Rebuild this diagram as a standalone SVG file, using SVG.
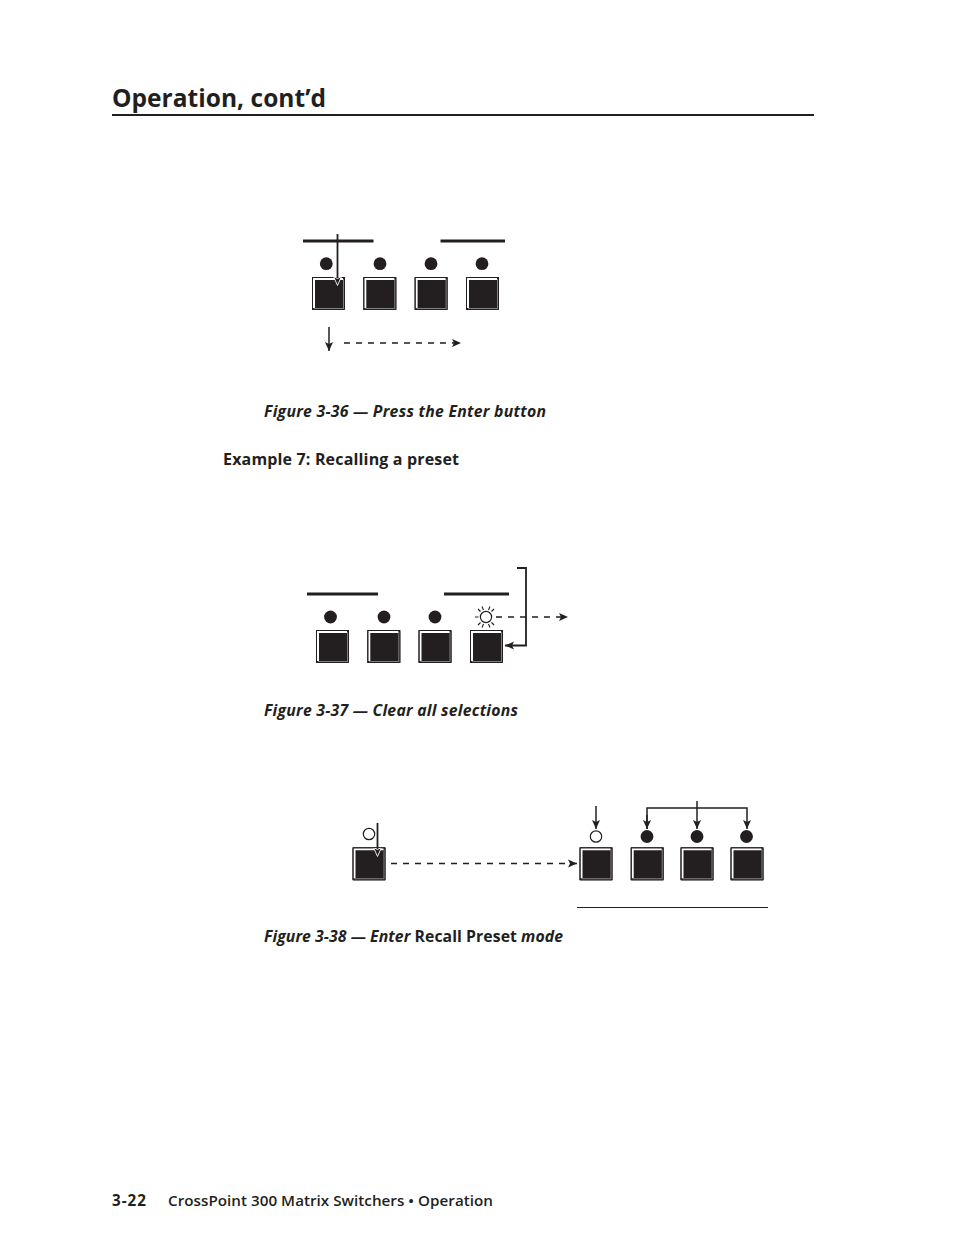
<svg xmlns="http://www.w3.org/2000/svg" width="954" height="1235" viewBox="0 0 954 1235">
<style>
text{font-family:"Open Sans","Noto Sans","Liberation Sans",sans-serif;fill:#231f20;font-weight:700}
.cap{font-size:15.8px;font-style:italic;font-weight:700}
.body{font-size:16px;font-weight:700}
.foot{font-size:15.200px;font-weight:600}
.bar{stroke:#231f20;stroke-width:2.8;fill:none}
.ln{stroke:#231f20;stroke-width:1.5;fill:none}
.dash{stroke:#231f20;stroke-width:1.5;fill:none;stroke-dasharray:6 6}
.led{fill:#231f20}
.ring{fill:#fff;stroke:#231f20;stroke-width:1.2}
</style>
<defs>
<g id="btn">
<rect x="0" y="0" width="33" height="33" fill="#231f20"/>
<path d="M32 2V32H2" fill="none" stroke="#808082" stroke-width="2"/>
<path d="M2 31V2H31" fill="none" stroke="#fff" stroke-width="2"/>
<path d="M.5 .5H32.500V32.500H.5Z" fill="none" stroke="#231f20" stroke-width="1"/>
</g>
<marker id="ah" markerUnits="userSpaceOnUse" markerWidth="10" markerHeight="9" refX="9" refY="4.500" orient="auto"><path d="M0 .5L9 4.500L0 8.500L2 4.500Z" fill="#231f20"/></marker>
<marker id="aw" markerUnits="userSpaceOnUse" markerWidth="11" markerHeight="10" refX="9.500" refY="5" orient="auto"><path d="M0 1L9 5L0 9L2 5Z" fill="#231f20" stroke="#fff" stroke-width="0.9"/></marker>
</defs>
<rect width="954" height="1235" fill="#fff"/>
<g id="header">
<text x="112" y="106.500" style="font-size:24.500px" textLength="214">Operation, cont’d</text>
<line x1="112" y1="115" x2="814" y2="115" stroke="#231f20" stroke-width="2"/>
</g>
<g id="fig36">
<g id="fig36-bars"><line class="bar" x1="303" y1="241" x2="373.500" y2="241"/><line class="bar" x1="440.500" y1="241" x2="505" y2="241"/></g>
<g id="fig36-b1"><circle class="led" cx="326.300" cy="263.700" r="6.400"/><use href="#btn" x="312" y="277"/></g>
<g id="fig36-b2"><circle class="led" cx="380" cy="263.700" r="6.400"/><use href="#btn" x="363.300" y="277"/></g>
<g id="fig36-b3"><circle class="led" cx="431" cy="263.700" r="6.400"/><use href="#btn" x="414.600" y="277"/></g>
<g id="fig36-b4"><circle class="led" cx="482" cy="263.700" r="6.400"/><use href="#btn" x="466" y="277"/></g>
</g>
<g id="fig37">
<g id="fig37-bars"><line class="bar" x1="307" y1="594" x2="378" y2="594"/><line class="bar" x1="444" y1="594" x2="509" y2="594"/></g>
<g id="fig37-b1"><circle class="led" cx="330.500" cy="617" r="6.400"/><use href="#btn" x="316" y="630"/></g>
<g id="fig37-b2"><circle class="led" cx="384" cy="617" r="6.400"/><use href="#btn" x="367.300" y="630"/></g>
<g id="fig37-b3"><circle class="led" cx="435" cy="617" r="6.400"/><use href="#btn" x="418.500" y="630"/></g>
<g id="fig37-b4"><circle class="ring" cx="486" cy="617" r="5.600"/>
<path class="ln" style="stroke-width:1.100" d="M475 617H478.500M478 609L480.500 611.500M494 609L491.500 611.500M478 625L480.500 622.500M494 625L491.500 622.500M482 606.500L483.500 610M490 606.500L488.500 610M482 627.500L483.500 624M490 627.500L488.500 624"/>
<use href="#btn" x="470" y="630"/></g>
</g>
<g id="fig38">
<g id="fig38-enter"><circle class="ring" cx="369" cy="834" r="5.700"/><use href="#btn" x="352.500" y="847.300"/></g>
<g id="fig38-b1"><circle class="ring" cx="596" cy="836.500" r="5.700"/><use href="#btn" x="579.500" y="847.300"/></g>
<g id="fig38-b2"><circle class="led" cx="647" cy="836.500" r="6.400"/><use href="#btn" x="630.700" y="847.300"/></g>
<g id="fig38-b3"><circle class="led" cx="697" cy="836.500" r="6.400"/><use href="#btn" x="680.500" y="847.300"/></g>
<g id="fig38-b4"><circle class="led" cx="746.500" cy="836.500" r="6.400"/><use href="#btn" x="730.500" y="847.300"/></g>
<line id="fig38-rule" class="ln" style="stroke-width:1" x1="577" y1="907.500" x2="768" y2="907.500"/>
</g>
<g id="connectors">
<line class="ln" style="stroke-width:1.800" x1="337.500" y1="234" x2="337.500" y2="286" marker-end="url(#aw)"/>
<line class="ln" x1="329" y1="327" x2="329" y2="351" marker-end="url(#ah)"/>
<line class="dash" x1="344" y1="343" x2="461" y2="343" marker-end="url(#ah)"/>
<path class="ln" style="stroke-width:1.800" d="M517 568H526V645.500H505" marker-end="url(#ah)"/>
<line class="dash" x1="496" y1="617" x2="568" y2="617" marker-end="url(#ah)"/>
<line class="ln" style="stroke-width:1.800" x1="377.500" y1="823" x2="377.500" y2="857" marker-end="url(#aw)"/>
<line class="dash" x1="391" y1="863.500" x2="577" y2="863.500" marker-end="url(#ah)"/>
<line class="ln" x1="596" y1="806" x2="596" y2="829" marker-end="url(#ah)"/>
<path class="ln" d="M647 829V808H747V829" marker-end="url(#ah)"/>
<line class="ln" x1="647" y1="815" x2="647" y2="829" marker-end="url(#ah)"/>
<line class="ln" x1="697" y1="801" x2="697" y2="829" marker-end="url(#ah)"/>
</g>
<g id="text">
<text class="cap" x="264" y="417.300" textLength="282">Figure 3-36 — Press the Enter button</text>
<text class="body" x="223" y="465.300" textLength="236">Example 7: Recalling a preset</text>
<text class="cap" x="264" y="716.300" textLength="254">Figure 3-37 — Clear all selections</text>
<text class="cap" x="264" y="942.300" textLength="299">Figure 3-38 — Enter <tspan style="font-style:normal">Recall Preset</tspan> mode</text>
<text class="foot" style="font-weight:700" x="112" y="1206" textLength="34">3-22</text>
<text class="foot" x="168" y="1206" textLength="325">CrossPoint 300 Matrix Switchers • Operation</text>
</g>
</svg>
